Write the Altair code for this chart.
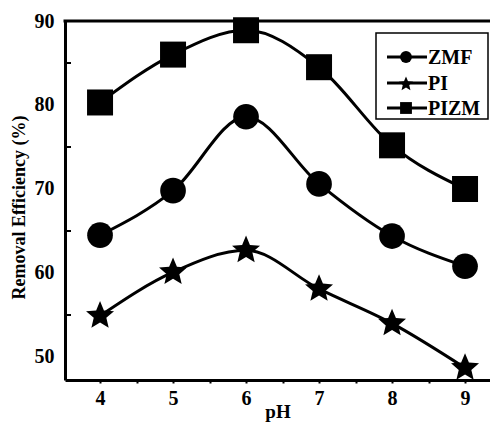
import altair as alt
import pandas as pd

ph = [4, 5, 6, 7, 8, 9]
zmf = [64.5, 69.8, 78.6, 70.6, 64.4, 60.8]
pi = [54.9, 60.1, 62.7, 58.1, 54.0, 48.7]
pizm = [80.3, 86.0, 88.9, 84.5, 75.2, 70.0]
series_names = ["ZMF", "PI", "PIZM"]
x_ticks = [4, 4.5, 5, 5.5, 6, 6.5, 7, 7.5, 8, 8.5, 9]
y_labels = [50, 60, 70, 80, 90]
y_minor = [55, 65, 75, 85]

STAR = ("M0,-1L0.265,-0.364L0.951,-0.309L0.428,0.139L0.588,0.809L0,0.45"
        "L-0.588,0.809L-0.428,0.139L-0.951,-0.309L-0.265,-0.364Z")
shapes = {"ZMF": "circle", "PI": STAR, "PIZM": "square"}
sizes = {"ZMF": 660, "PI": 866, "PIZM": 676}
leg_sizes = {"ZMF": 140, "PI": 230, "PIZM": 140}

rows = []
for name, vals in zip(series_names, [zmf, pi, pizm]):
    for x, y in zip(ph, vals):
        rows.append({"pH": x, "value": y, "series": name})
df = pd.DataFrame(rows)

W, H = 425, 359
FONT = "Liberation Serif"

xscale = alt.Scale(domain=[3.52, 9.342], nice=False, zero=False)
yscale = alt.Scale(domain=[47.26, 90], nice=False, zero=False)

base = alt.Chart(df)

lines = base.mark_line(interpolate="monotone", strokeWidth=3, color="black").encode(
    x=alt.X("pH:Q", scale=xscale, axis=alt.Axis(
        values=x_ticks,
        labelExpr="datum.value % 1 === 0 ? format(datum.value, 'd') : ''",
        title="pH", titleY=37, titleBaseline="alphabetic", titleFontSize=19,
        tickSize=3, tickWidth=2, labelPadding=5, grid=False)),
    y=alt.Y("value:Q", scale=yscale, axis=alt.Axis(
        values=y_labels, tickSize=0, labelPadding=11, grid=False,
        title="Removal Efficiency (%)", titleX=-46, titleY=186, titleAngle=270,
        titleBaseline="middle", titleFontSize=18)),
    detail="series:N",
)

layers = [lines]
for name in series_names:
    layers.append(
        base.transform_filter(alt.datum.series == name)
        .mark_point(filled=True, opacity=1, color="black", shape=shapes[name],
                    size=sizes[name], strokeWidth=0)
        .encode(x="pH:Q", y="value:Q")
    )

minor = alt.Chart(pd.DataFrame({"v": y_minor})).mark_rule(color="black", strokeWidth=2).encode(
    y="v:Q", x=alt.value(0), x2=alt.value(6))
layers.append(minor)

top_border = alt.Chart(pd.DataFrame({"a": [0]})).mark_rule(color="black", strokeWidth=3).encode(
    x=alt.value(-1.5), x2=alt.value(W), y=alt.value(0))
layers.append(top_border)

# legend
leg_box = alt.Chart(pd.DataFrame({"a": [0]})).mark_rect(
    fill="white", stroke="black", strokeWidth=1.5).encode(
    x=alt.value(311), x2=alt.value(423), y=alt.value(12), y2=alt.value(98))
layers.append(leg_box)
leg_y = {"ZMF": 36, "PI": 62, "PIZM": 87}
for name in series_names:
    d = alt.Chart(pd.DataFrame({"label": [name]}))
    layers.append(d.mark_rule(color="black", strokeWidth=3).encode(
        x=alt.value(322), x2=alt.value(362), y=alt.value(leg_y[name])))
    layers.append(d.mark_point(filled=True, opacity=1, color="black", shape=shapes[name],
                               size=leg_sizes[name], strokeWidth=0).encode(
        x=alt.value(341), y=alt.value(leg_y[name] + (1 if name == "PI" else 0))))
    layers.append(d.mark_text(align="left", baseline="middle", font=FONT, fontWeight="bold",
                              fontSize=20, color="black").encode(
        x=alt.value(363), y=alt.value(leg_y[name] + 1), text="label:N"))

chart = alt.layer(*layers).properties(
    width=W, height=H,
    autosize=alt.AutoSizeParams(type="none"),
    padding={"left": 57, "top": 13, "right": 0, "bottom": 42},
).configure_view(stroke=None).configure_axis(
    domainColor="black", domainWidth=3, tickColor="black",
    labelFont=FONT, labelFontWeight="bold", labelFontSize=20, labelColor="black",
    titleFont=FONT, titleFontWeight="bold", titleColor="black",
)

chart.save("out.html", embed_options={"renderer": "svg", "actions": False})
